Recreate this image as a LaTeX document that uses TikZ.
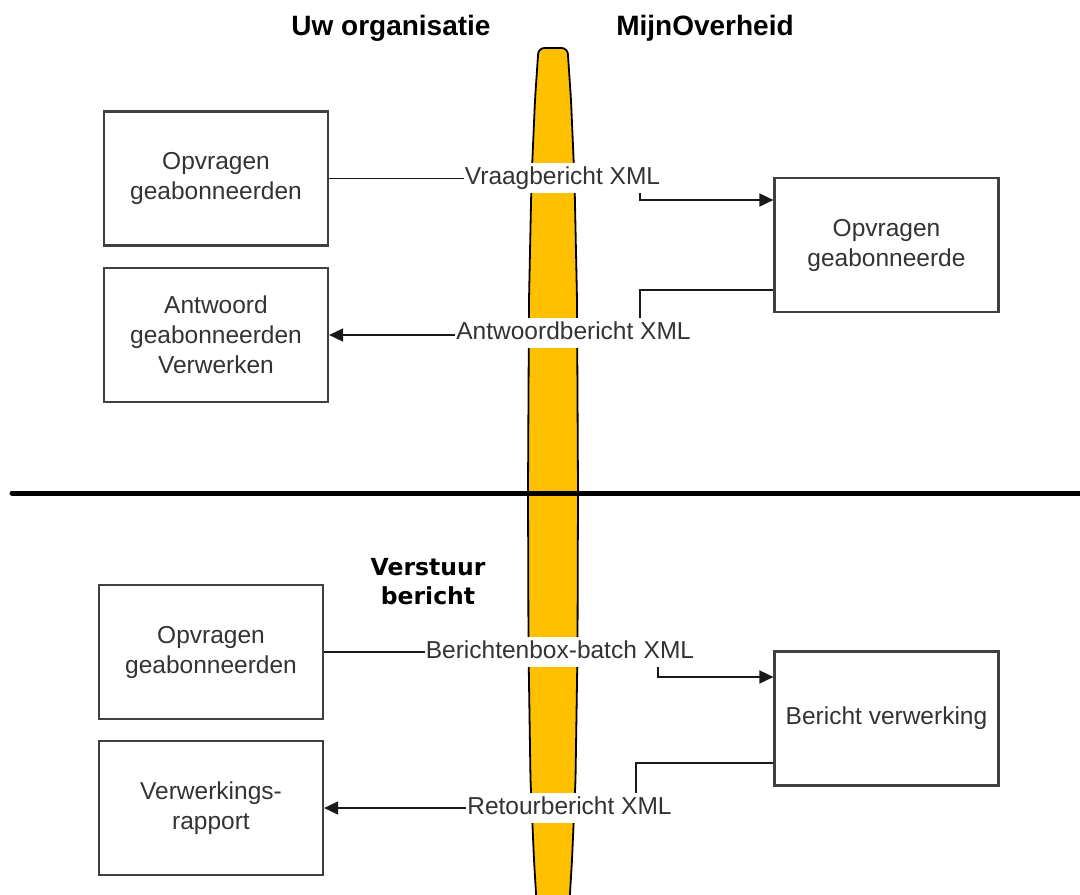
\documentclass[tikz,border=0pt]{standalone}
\usepackage{fontspec}
\setmainfont{Liberation Sans}
\newfontfamily\verd{DejaVu Sans}
\usetikzlibrary{arrows.meta}
\definecolor{pillc}{RGB}{255,192,0}
\definecolor{txt}{RGB}{51,51,51}
\begin{document}
\begin{tikzpicture}[x=1pt,y=-1pt,
  box/.style={draw=black!75,line width=2.2pt,minimum width=224pt,minimum height=134pt,
    align=center,font=\fontsize{24.5}{30}\selectfont,text=txt,inner sep=0pt},
  conn/.style={draw=black!90,line width=1.7pt},
  arr/.style={-{Triangle[length=14pt,width=13pt]}},
  lab/.style={fill=white,inner xsep=1pt,inner ysep=3pt,text height=18pt,text depth=6pt,
    font=\fontsize{24.5}{30}\selectfont,text=txt},
  head/.style={font=\bfseries\fontsize{28}{34}\selectfont,text=black}
]
\useasboundingbox (0,0) rectangle (1080,895);
\clip (0,0) rectangle (1080,895);

% pill
\draw[line width=1.8pt,fill=pillc,rounded corners=6pt]
  (538.5,48) -- (567.5,48) -- (571,100) -- (574.5,180) -- (577,300) -- (578,490)
  -- (577.5,650) -- (575.5,780) -- (572,860) -- (569,910) -- (537,910)
  -- (534,860) -- (530.5,780) -- (528.5,650) -- (528,490) -- (529,300)
  -- (531.5,180) -- (535,100) -- cycle;

% divider
\draw[line width=5pt,line cap=round] (12,493) -- (1085,493);

% headers
\node[head] (h1) at (391,28) {Uw organisatie};
\node[head] (h2) at (705,28) {MijnOverheid};
\node[font=\verd\bfseries\fontsize{23.5}{29}\selectfont,align=center] (vb) at (428,582) {Verstuur\\bericht};

% boxes
\node[box] (b1) at (216,178.5) {Opvragen\\geabonneerden};
\node[box] (b2) at (216,335) {Antwoord\\geabonneerden\\Verwerken};
\node[box] (b3) at (886.5,245) {Opvragen\\geabonneerde};
\node[box] (b4) at (211,652) {Opvragen\\geabonneerden};
\node[box] (b5) at (211,808) {Verwerkings-\\rapport};
\node[box] (b6) at (886.5,718.5) {Bericht verwerking};

% bend coordinates
\coordinate (k1) at (640,200);
\coordinate (k2) at (640,290);
\coordinate (k3) at (658,677);
\coordinate (k4) at (636,763);

% connectors
\draw[conn,arr] (b1.east) -- (b1.east -| k1) -- (k1) -- (k1 -| b3.west);
\draw[conn,arr] (k2 -| b3.west) -- (k2) -- (k2 |- b2.east) -- (b2.east);
\draw[conn,arr] (b4.east) -- (b4.east -| k3) -- (k3) -- (k3 -| b6.west);
\draw[conn,arr] (k4 -| b6.west) -- (k4) -- (k4 |- b5.east) -- (b5.east);

% labels
\node[lab] (l1) at (562.5,178) {Vraagbericht XML};
\node[lab] (l2) at (573.5,333) {Antwoordbericht XML};
\node[lab] (l3) at (560,652) {Berichtenbox-batch XML};
\node[lab] (l4) at (569.5,808) {Retourbericht XML};
\end{tikzpicture}
\end{document}
